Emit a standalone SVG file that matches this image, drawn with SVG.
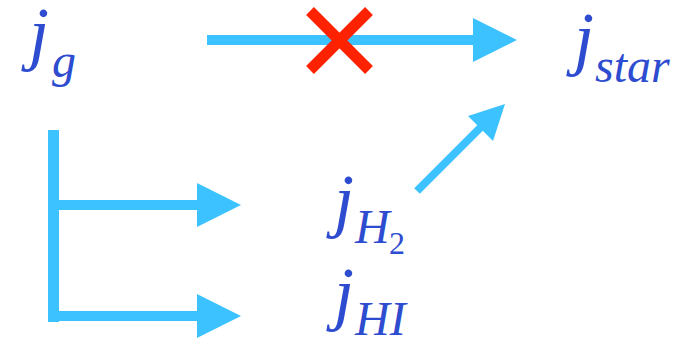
<svg xmlns="http://www.w3.org/2000/svg" width="687" height="340" viewBox="0 0 687 340">
<defs>
<polygon id="head" points="-44,-22 0,0 -44,22" fill="#3cc3ff"/>
</defs>
<rect width="687" height="340" fill="#fff"/>
<g id="connectors" stroke="#3cc3ff" fill="none">
<line x1="207" y1="40" x2="475" y2="40" stroke-width="10"/>
<use href="#head" x="517" y="40" stroke="none"/>
<line x1="53.5" y1="130" x2="53.5" y2="322" stroke-width="11"/>
<line x1="53" y1="205" x2="199" y2="205" stroke-width="10"/>
<use href="#head" x="241" y="205" stroke="none"/>
<line x1="53" y1="316" x2="199" y2="316" stroke-width="10"/>
<use href="#head" x="241" y="316" stroke="none"/>
<line x1="417" y1="191" x2="483" y2="125" stroke-width="8"/>
<polygon points="505,104 493,141 468,116" fill="#3cc3ff" stroke="none"/>
<g id="cross" stroke="#ff2200" stroke-width="11">
<line x1="310" y1="11" x2="369" y2="70"/>
<line x1="369" y1="11" x2="310" y2="70"/>
</g>
</g>
<g id="jg"><text x="29" y="57" font-family="Liberation Serif" font-style="italic" font-size="72" fill="#2d4ccf">j</text><text x="52" y="77" font-family="Liberation Serif" font-style="italic" font-size="48" fill="#2d4ccf">g</text></g>
<g id="jstar"><text x="574" y="62" font-family="Liberation Serif" font-style="italic" font-size="72" fill="#2d4ccf">j</text><text x="595" y="82" font-family="Liberation Serif" font-style="italic" font-size="48" fill="#2d4ccf">star</text></g>
<g id="jH2"><text x="334" y="224" font-family="Liberation Serif" font-style="italic" font-size="72" fill="#2d4ccf">j</text><text x="355" y="243" font-family="Liberation Serif" font-style="italic" font-size="48" fill="#2d4ccf">H</text><text x="389" y="254" font-family="Liberation Serif" font-size="32" fill="#2d4ccf">2</text></g>
<g id="jHI"><text x="334" y="317" font-family="Liberation Serif" font-style="italic" font-size="72" fill="#2d4ccf">j</text><text x="355" y="335" font-family="Liberation Serif" font-style="italic" font-size="48" fill="#2d4ccf">HI</text></g>
</svg>
